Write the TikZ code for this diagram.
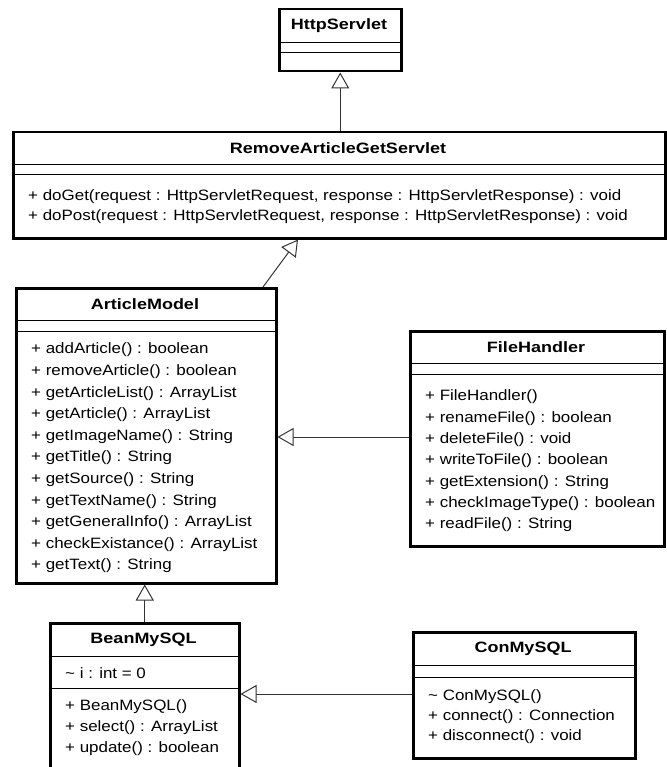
\documentclass[tikz,border=0pt]{standalone}
\usepackage{fontspec}
\setmainfont{Liberation Sans}[FakeStretch=1.13]
\newfontfamily\titlefont{Liberation Sans}[FakeStretch=1.2]
\usetikzlibrary{arrows.meta,calc}
\begin{document}
\begin{tikzpicture}[x=1pt,y=-1pt,
  cls/.style={draw, line width=2.5pt, rectangle, inner sep=0pt, anchor=north west},
  sepline/.style={line width=1pt},
  ttl/.style={font=\titlefont\bfseries\fontsize{15}{18}\selectfont, inner sep=0pt},
  mem/.style={font=\fontsize{15}{18}\selectfont, anchor=west, inner sep=0pt},
  inh/.style={line width=1pt, draw=black!80, -{Triangle[open, length=16pt, width=18pt, fill=white]}}]
\useasboundingbox (0,0) rectangle (666,767);
\fill[white] (0,0) rectangle (666,767);

% HttpServlet
\node[cls, minimum width=122pt, minimum height=62pt] (hs) at (278,8) {};
\draw[sepline] (278,43) -- (400,43);
\draw[sepline] (278,53) -- (400,53);
\node[ttl] (hst) at (339,26) {HttpServlet};

% RemoveArticleGetServlet
\node[cls, minimum width=652pt, minimum height=106pt] (rags) at (12,131) {};
\draw[sepline] (12,165) -- (664,165);
\draw[sepline] (12,175) -- (664,175);
\node[ttl] (ragst) at (338,148) {RemoveArticleGetServlet};
\node[mem] (r1) at (28,197) {+ doGet(request : HttpServletRequest, response : HttpServletResponse) : void};
\node[mem] (r2) at (28,217) {+ doPost(request : HttpServletRequest, response : HttpServletResponse) : void};

% ArticleModel
\node[cls, minimum width=260pt, minimum height=295pt] (am) at (15,287) {};
\draw[sepline] (15,320) -- (275,320);
\draw[sepline] (15,331) -- (275,331);
\node[ttl] (amt) at (145,304) {ArticleModel};
\node[mem] (a1) at (31,350.0) {+ addArticle() : boolean};
\node[mem] (a2) at (31,371.6) {+ removeArticle() : boolean};
\node[mem] (a3) at (31,393.2) {+ getArticleList() : ArrayList};
\node[mem] (a4) at (31,414.8) {+ getArticle() : ArrayList};
\node[mem] (a5) at (31,436.4) {+ getImageName() : String};
\node[mem] (a6) at (31,458.0) {+ getTitle() : String};
\node[mem] (a7) at (31,479.6) {+ getSource() : String};
\node[mem] (a8) at (31,501.2) {+ getTextName() : String};
\node[mem] (a9) at (31,522.8) {+ getGeneralInfo() : ArrayList};
\node[mem] (a10) at (31,544.4) {+ checkExistance() : ArrayList};
\node[mem] (a11) at (31,566.0) {+ getText() : String};

% FileHandler
\node[cls, minimum width=254pt, minimum height=215pt] (fh) at (409,330) {};
\draw[sepline] (409,363) -- (663,363);
\draw[sepline] (409,374) -- (663,374);
\node[ttl] (fht) at (536,347) {FileHandler};
\node[mem] (f1) at (425,397.0) {+ FileHandler()};
\node[mem] (f2) at (425,418.3) {+ renameFile() : boolean};
\node[mem] (f3) at (425,439.6) {+ deleteFile() : void};
\node[mem] (f4) at (425,460.9) {+ writeToFile() : boolean};
\node[mem] (f5) at (425,482.2) {+ getExtension() : String};
\node[mem] (f6) at (425,503.5) {+ checkImageType() : boolean};
\node[mem] (f7) at (425,524.8) {+ readFile() : String};

% BeanMySQL
\node[cls, minimum width=189pt, minimum height=200pt] (bm) at (49,622) {};
\draw[sepline] (49,656) -- (238,656);
\draw[sepline] (49,688) -- (238,688);
\node[ttl] (bmt) at (143.5,640) {BeanMySQL};
\node[mem] (b0) at (65,673) {\textasciitilde{} i : int = 0};
\node[mem] (b1) at (65,707) {+ BeanMySQL()};
\node[mem] (b2) at (65,728) {+ select() : ArrayList};
\node[mem] (b3) at (65,749) {+ update() : boolean};

% ConMySQL
\node[cls, minimum width=222pt, minimum height=126pt] (cm) at (412,631) {};
\draw[sepline] (412,665) -- (634,665);
\draw[sepline] (412,677) -- (634,677);
\node[ttl] (cmt) at (523,649) {ConMySQL};
\node[mem] (c1) at (428,697) {\textasciitilde{} ConMySQL()};
\node[mem] (c2) at (428,717) {+ connect() : Connection};
\node[mem] (c3) at (428,737) {+ disconnect() : void};

% connectors
\coordinate (y1) at (0,437);
\coordinate (y2) at (0,694);
\draw[inh] (rags.north -| hs.south) -- (hs.south);
\draw[inh] ($(am.north west)+(248,0)$) -- ($(rags.south west)+(286,0)$);
\draw[inh] (fh.west |- y1) -- (am.east |- y1);
\draw[inh] (bm.north) -- (bm.north |- am.south);
\draw[inh] (cm.west |- y2) -- (bm.east |- y2);
\end{tikzpicture}
\end{document}
